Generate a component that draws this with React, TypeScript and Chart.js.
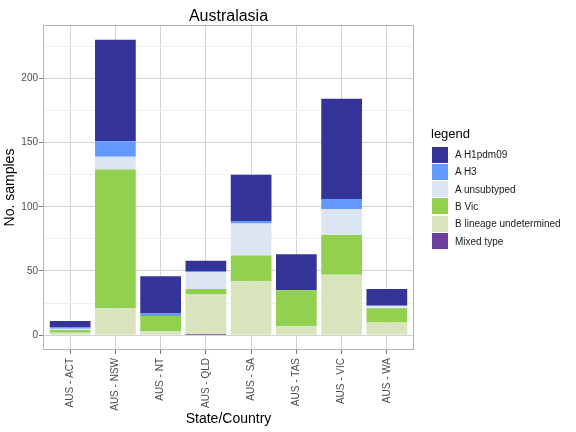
import React, { useEffect, useRef } from 'react';
import { Chart, registerables } from 'chart.js';

Chart.register(...registerables);

const categories = ['AUS - ACT', 'AUS - NSW', 'AUS - NT', 'AUS - QLD', 'AUS - SA', 'AUS - TAS', 'AUS - VIC', 'AUS - WA'];

// legend order (top of stack first)
const subtypes = ['A H1pdm09', 'A H3', 'A unsubtyped', 'B Vic', 'B lineage undetermined', 'Mixed type'];
const subtypeColors = ['#333399', '#6699FF', '#DCE6F2', '#92D050', '#D8E4BC', '#6B3FA0'];

const h1pdm09 = [5, 79, 29, 8, 36, 28, 78, 13];
const h3 = [1, 12, 2, 1, 2, 0, 8, 0];
const unsubtyped = [1, 10, 0, 13, 25, 0, 20, 2];
const bVic = [2, 108, 12, 4, 20, 28, 31, 11];
const bUndetermined = [2, 21, 3, 31, 42, 7, 47, 10];
const mixed = [0, 0, 0, 1, 0, 0, 0, 0];

const seriesValues = [h1pdm09, h3, unsubtyped, bVic, bUndetermined, mixed];

const yTicks = [0, 25, 50, 75, 100, 125, 150, 175, 200, 225];

const FONT = '"Liberation Sans", Arial, sans-serif';

const panelBorder = {
  id: 'panelBorder',
  afterDatasetsDraw(chart: Chart) {
    const { ctx, chartArea } = chart;
    ctx.save();
    ctx.strokeStyle = '#b3b3b3';
    ctx.lineWidth = 1;
    ctx.strokeRect(chartArea.left + 0.5, chartArea.top + 0.5, chartArea.right - chartArea.left - 1, chartArea.bottom - chartArea.top - 1);
    ctx.restore();
  },
};

const App: React.FC = () => {
  const canvasRef = useRef<HTMLCanvasElement | null>(null);

  useEffect(() => {
    if (!canvasRef.current) return;
    const ctx = canvasRef.current.getContext('2d');
    if (!ctx) return;

    const totals = categories.map((_, i) => seriesValues.reduce((s, arr) => s + arr[i], 0));
    const top = Math.max(...totals);

    // stack bottom-up: reverse of legend order
    const datasets = subtypes
      .map((name, k) => ({
        label: name,
        data: seriesValues[k].map((v, i) => ({ x: i, y: v })),
        backgroundColor: subtypeColors[k],
        borderWidth: 0,
        categoryPercentage: 1,
        barPercentage: 0.9,
      }))
      .reverse();

    const chart = new Chart(ctx, {
      type: 'bar',
      data: { datasets },
      plugins: [panelBorder],
      options: {
        animation: false,
        responsive: false,
        layout: { padding: { left: 0, right: 162, top: 0, bottom: 0 } },
        plugins: {
          legend: { display: false },
          tooltip: { enabled: false },
          title: {
            display: true,
            text: 'Australasia',
            fullSize: false,
            color: '#000',
            font: { family: FONT, size: 16, weight: 'normal', lineHeight: 1 },
            padding: { top: 9, bottom: 0 },
          },
        },
        scales: {
          x: {
            type: 'linear',
            stacked: true,
            offset: false,
            min: -0.6,
            max: categories.length - 0.4,
            afterBuildTicks: (scale: any) => {
              scale.ticks = categories.map((_, i) => ({ value: i }));
            },
            afterFit: (scale: any) => {
              scale.height = 82;
            },
            ticks: {
              autoSkip: false,
              maxRotation: 90,
              minRotation: 90,
              padding: 4,
              color: '#4d4d4d',
              font: { family: FONT, size: 10 },
              callback: (value: any) => categories[Number(value)] ?? '',
            },
            grid: {
              offset: false,
              color: '#d4d4d4',
              tickColor: '#777',
              tickLength: 4,
              lineWidth: 1,
            },
            border: { display: false },
            title: {
              display: true,
              text: 'State/Country',
              color: '#000',
              font: { family: FONT, size: 14 },
              padding: { top: 0, bottom: 4 },
            },
          },
          y: {
            type: 'linear',
            stacked: true,
            min: -top * 0.05,
            max: top * 1.05,
            afterBuildTicks: (scale: any) => {
              scale.ticks = yTicks.map((v) => ({ value: v }));
            },
            afterFit: (scale: any) => {
              scale.width = 43;
            },
            ticks: {
              autoSkip: false,
              padding: 1,
              color: '#4d4d4d',
              font: { family: FONT, size: 10 },
              callback: (value: any) => (Number(value) % 50 === 0 ? String(value) : ''),
            },
            grid: {
              color: (c: any) => (c.tick && c.tick.value % 50 === 0 ? '#d4d4d4' : '#efefef'),
              tickColor: (c: any) => (c.tick && c.tick.value % 50 === 0 ? '#777' : 'rgba(0,0,0,0)'),
              tickLength: 4,
              lineWidth: 1,
            },
            border: { display: false },
            title: {
              display: true,
              text: 'No. samples',
              color: '#000',
              font: { family: FONT, size: 14 },
              padding: { top: 2, bottom: 0 },
            },
          },
        },
      },
    });

    return () => {
      chart.destroy();
    };
  }, []);

  return (
    <div style={{ position: 'absolute', left: 0, top: 0, width: 576, height: 432, background: '#fff', fontFamily: FONT }}>
      <canvas ref={canvasRef} width={576} height={432} style={{ width: 576, height: 432 }} />
      <div style={{ position: 'absolute', left: 431, top: 126, fontSize: 13, lineHeight: '16px', color: '#000' }}>legend</div>
      {subtypes.map((name, k) => (
        <div key={name} style={{ position: 'absolute', left: 432, top: 146.5 + k * 17.3, height: 16, display: 'flex', alignItems: 'center' }}>
          <div style={{ width: 16, height: 16, background: subtypeColors[k] }} />
          <span style={{ marginLeft: 7, fontSize: 10, color: '#1a1a1a', whiteSpace: 'nowrap' }}>{name}</span>
        </div>
      ))}
    </div>
  );
};

export default App;
